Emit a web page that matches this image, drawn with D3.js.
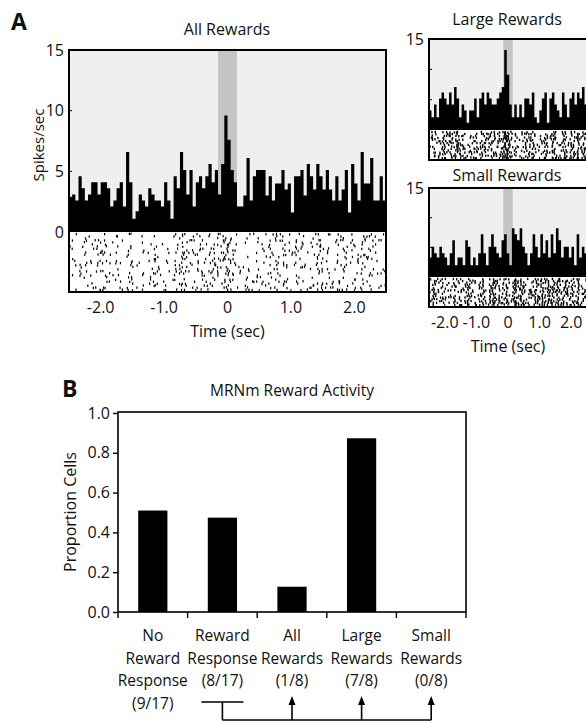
<!DOCTYPE html>
<html><head><meta charset="utf-8">
<script src="https://cdn.jsdelivr.net/npm/d3@7"></script>
<style>
body{margin:0;background:#fff}
svg{display:block}
text{font-family:"Open Sans",sans-serif;fill:#111}
</style>
</head><body>
<svg id="chart" width="586" height="721"></svg>
<script>
// ---------------- DATA ----------------
// Peri-event histograms (spikes/sec per bin, -2.5 s .. +2.5 s)
const allRewards = [2.9,3.1,2.6,4.6,3.6,2.6,3.1,4.1,4.1,3.1,4.1,4.1,3.6,2.1,2.6,3.6,4.1,2.1,6.6,4.1,
  1.1,1.7,3.1,2.6,2.1,3.6,3.1,2.6,2.6,2.1,4.1,2.6,1.1,4.6,3.6,6.6,5.1,3.1,5.1,2.1,
  4.1,4.6,3.6,4.6,5.6,4.1,5.1,3.1,5.6,9.6,7.6,5.1,4.1,2.1,2.1,
  3.0,6.1,2.6,4.6,5.1,5.1,5.1,3.0,4.6,2.6,4.0,4.0,5.1,3.5,4.0,1.6,4.6,4.6,5.1,3.0,
  5.6,4.6,3.5,5.6,4.6,3.5,5.1,3.5,2.6,4.6,2.6,3.5,5.1,1.6,5.6,4.0,2.6,6.6,4.0,4.0,
  6.1,2.6,2.6,4.6,2.6];
const largeRewards = [3.2,2.1,4.2,2.1,5.2,6.2,5.2,4.2,6.2,4.2,7.1,5.2,2.1,4.2,3.2,1.2,3.2,3.2,5.2,2.1,
  5.2,6.2,4.2,6.2,5.2,4.2,4.2,5.2,6.2,7.1,13.2,9.1,4.2,2.1,4.2,2.1,4.2,2.1,5.2,5.2,
  4.2,6.2,2.1,1.2,3.2,5.2,6.2,1.2,5.2,6.2,4.2,3.2,2.1,6.2,4.2,2.1,5.2,6.2,4.2,6.2,
  5.2,7.1,4.2];
const smallRewards = [3.3,5.1,4.0,3.3,5.1,4.0,3.3,2.0,4.0,6.2,2.0,3.3,3.3,2.0,6.2,5.1,2.0,3.3,2.0,4.0,
  7.2,4.0,2.0,5.1,7.2,5.1,4.0,3.3,6.2,7.2,4.0,2.0,8.2,7.2,6.2,8.2,5.1,4.0,2.0,4.0,
  7.2,5.1,3.3,7.2,4.0,6.2,3.3,7.2,4.0,8.2,6.2,3.3,5.1,5.1,3.3,5.1,2.0,7.2,3.3,5.1,
  4.0];
const timeDomain = [-2.5, 2.5];
const rewardWindow = [-0.15, 0.15];
const timeTicks = [-2, -1, 0, 1, 2];
const timeTickLabels = ["-2.0", "-1.0", "0", "1.0", "2.0"];
const rateTicksMain = [0, 5, 10, 15];
const rateTicksSmall = [15];

// Panel B
const categories = ["No Reward Response", "Reward Response", "All Rewards", "Large Rewards", "Small Rewards"];
const categoryLines = [["No","Reward","Response","(9/17)"],["Reward","Response","(8/17)"],
  ["All","Rewards","(1/8)"],["Large","Rewards","(7/8)"],["Small","Rewards","(0/8)"]];
const proportions = [0.51, 0.474, 0.127, 0.873, 0.0];
const propTicks = [0, 0.2, 0.4, 0.6, 0.8, 1.0];

// ---------------- DRAW ----------------
const svg = d3.select("#chart");

// deterministic integer hash used to scatter raster ticks (texture derived from the PSTH values)
function h(a, b, c) {
  let x = Math.imul(a, 0x9E3779B1) ^ Math.imul(b + 977, 0x85EBCA77) ^ Math.imul(c + 31, 0xC2B2AE3D);
  x ^= x >>> 16; x = Math.imul(x, 0x7feb352d);
  x ^= x >>> 15; x = Math.imul(x, 0x846ca68b);
  x ^= x >>> 16;
  return (x >>> 0) / 4294967296;
}

function psth(cfg) {
  const g = svg.append("g");
  const x = d3.scaleLinear().domain(timeDomain).range([cfg.x0, cfg.x1]);
  const y = d3.scaleLinear().domain([0, 15]).range([cfg.yBase, cfg.yTop]);
  const n = cfg.data.length;
  const bw = (timeDomain[1] - timeDomain[0]) / n;
  const pts = cfg.data.map((v, i) => [timeDomain[0] + i * bw, v]);
  pts.push([timeDomain[1], cfg.data[n - 1]]);

  g.append("rect").attr("x", cfg.x0).attr("y", cfg.yTop)
    .attr("width", cfg.x1 - cfg.x0).attr("height", cfg.yBase - cfg.yTop).attr("fill", "#efefef");
  g.append("rect").attr("x", x(rewardWindow[0])).attr("y", cfg.yTop)
    .attr("width", x(rewardWindow[1]) - x(rewardWindow[0])).attr("height", cfg.yBase - cfg.yTop)
    .attr("fill", "#c4c4c4");
  const area = d3.area().curve(d3.curveStepAfter)
    .x(d => x(d[0])).y0(y(0)).y1(d => y(d[1]));
  g.append("path").datum(pts).attr("d", area).attr("fill", "#000");

  // raster
  g.append("rect").attr("x", cfg.x0).attr("y", cfg.yBase)
    .attr("width", cfg.x1 - cfg.x0).attr("height", cfg.yBottom - cfg.yBase).attr("fill", "#fff");
  const rowH = (cfg.yBottom - cfg.yBase - cfg.tickH - 2) / (cfg.rows - 1);
  const spikes = [];
  for (let r = 0; r < cfg.rows; r++) {
    cfg.data.forEach((v, i) => {
      let p = v * cfg.gain;
      let k = 0;
      while (p > 0) {
        if (h(r + 1, i + 1, k + cfg.seed * 101) < p) {
          spikes.push({ t: timeDomain[0] + (i + h(i + 7, r + 3, k + 11 + cfg.seed * 53)) * bw,
                        r: r, j: h(r + 5, i + 9, k + 70 + cfg.seed) });
        }
        p -= 1; k++;
      }
    });
  }
  g.append("g").selectAll("rect").data(spikes).join("rect")
    .attr("x", d => x(d.t)).attr("y", d => cfg.yBase + 1 + d.r * rowH + (d.j - 0.5) * 0.8)
    .attr("width", cfg.tickW).attr("height", cfg.tickH).attr("fill", "#000");

  // frame
  g.append("rect").attr("x", cfg.x0).attr("y", cfg.yTop)
    .attr("width", cfg.x1 - cfg.x0).attr("height", cfg.yBottom - cfg.yTop)
    .attr("fill", "none").attr("stroke", "#000").attr("stroke-width", 2);

  // y ticks (inward)
  g.append("g").selectAll("line").data([5, 10]).join("line")
    .attr("x1", cfg.x0).attr("x2", cfg.x0 + 3).attr("y1", d => y(d)).attr("y2", d => y(d))
    .attr("stroke", "#000").attr("stroke-width", 1);
  g.append("g").selectAll("text").data(cfg.yLabels).join("text")
    .attr("x", cfg.x0 - 5).attr("y", d => y(d)).attr("dy", "0.36em")
    .attr("text-anchor", "end").attr("font-size", 16).text(d => d);

  // x ticks
  g.append("g").selectAll("line").data(d3.range(-2, 2.01, 0.5)).join("line")
    .attr("x1", d => x(d)).attr("x2", d => x(d)).attr("y1", cfg.yBottom).attr("y2", cfg.yBottom - 3)
    .attr("stroke", "#000").attr("stroke-width", 1);
  if (cfg.xAxis) {
    g.append("g").selectAll("text").data(timeTicks).join("text")
      .attr("x", d => x(d)).attr("y", cfg.yBottom + 21)
      .attr("text-anchor", "middle").attr("font-size", 16).text((d, i) => timeTickLabels[i]);
    g.append("text").attr("x", x(0)).attr("y", cfg.yBottom + 45)
      .attr("text-anchor", "middle").attr("font-size", 16).text("Time (sec)");
  }
  g.append("text").attr("x", cfg.titleX).attr("y", cfg.titleY)
    .attr("text-anchor", "middle").attr("font-size", 16).text(cfg.title);
  return { x, y };
}

psth({ data: allRewards, x0: 69, x1: 386, yTop: 50, yBase: 232, yBottom: 292,
  rows: 28, gain: 0.055, tickW: 1.2, tickH: 2.4, seed: 1,
  yLabels: rateTicksMain, xAxis: true, title: "All Rewards", titleX: 227, titleY: 35 });
psth({ data: largeRewards, x0: 429, x1: 587, yTop: 39, yBase: 130, yBottom: 160,
  rows: 15, gain: 0.115, tickW: 1.4, tickH: 2.3, seed: 2,
  yLabels: rateTicksSmall, xAxis: false, title: "Large Rewards", titleX: 507, titleY: 25 });
psth({ data: smallRewards, x0: 429, x1: 587, yTop: 188, yBase: 277, yBottom: 307,
  rows: 15, gain: 0.115, tickW: 1.4, tickH: 2.3, seed: 3,
  yLabels: rateTicksSmall, xAxis: true, title: "Small Rewards", titleX: 507, titleY: 181 });

svg.append("text").attr("x", 44).attr("y", 145).attr("transform", "rotate(-90,44,145)")
  .attr("text-anchor", "middle").attr("font-size", 15).text("Spikes/sec");
svg.append("text").attr("x", 11).attr("y", 30).attr("font-size", 23).attr("font-weight", "bold")
  .attr("font-family", "Liberation Sans, Arial, sans-serif").text("A");

// ---------------- PANEL B ----------------
const bx = d3.scaleBand().domain(d3.range(categories.length)).range([118, 466])
  .paddingInner(0.58).paddingOuter(0.29);
const step = (466 - 118) / categories.length;
const by = d3.scaleLinear().domain([0, 1]).range([612, 413]);
const gb = svg.append("g");

gb.selectAll("rect.bar").data(proportions).join("rect").attr("class", "bar")
  .attr("x", (d, i) => bx(i)).attr("width", bx.bandwidth())
  .attr("y", d => by(d)).attr("height", d => by(0) - by(d)).attr("fill", "#000");

gb.append("rect").attr("x", 118).attr("y", 412).attr("width", 348).attr("height", 200)
  .attr("fill", "none").attr("stroke", "#000").attr("stroke-width", 1.6);

const yAxis = d3.axisLeft(by).tickValues(propTicks).tickFormat(d3.format(".1f")).tickSize(5).tickPadding(3);
const ya = gb.append("g").attr("transform", "translate(118,0)").call(yAxis);
ya.select(".domain").remove();
ya.selectAll("line").attr("stroke-width", 1.4);
ya.selectAll("text").attr("font-size", 16).attr("font-family", '"Open Sans",sans-serif').attr("fill", "#111");

gb.selectAll("line.ct").data(d3.range(categories.length + 1)).join("line").attr("class", "ct")
  .attr("x1", i => 118 + i * step).attr("x2", i => 118 + i * step)
  .attr("y1", 612).attr("y2", 618).attr("stroke", "#000").attr("stroke-width", 1.4);

const lbl = gb.selectAll("text.cat").data(categoryLines).join("text").attr("class", "cat")
  .attr("text-anchor", "middle").attr("font-size", 15.5)
  .attr("x", (d, i) => bx(i) + bx.bandwidth() / 2).attr("y", 641);
lbl.selectAll("tspan").data((d, i) => d.map(s => ({ s, cx: bx(i) + bx.bandwidth() / 2 }))).join("tspan")
  .attr("x", d => d.cx).attr("dy", (d, j) => j === 0 ? 0 : 22.7).text(d => d.s);

gb.append("text").attr("x", 292).attr("y", 396).attr("text-anchor", "middle")
  .attr("font-size", 15.5).text("MRNm Reward Activity");
gb.append("text").attr("x", 76).attr("y", 512).attr("transform", "rotate(-90,76,512)")
  .attr("text-anchor", "middle").attr("font-size", 16).text("Proportion Cells");
svg.append("text").attr("x", 62).attr("y", 397).attr("font-size", 23).attr("font-weight", "bold")
  .attr("font-family", "Liberation Sans, Arial, sans-serif").text("B");

// connectors
const cx = i => bx(i) + bx.bandwidth() / 2;
const conn = svg.append("g").attr("stroke", "#000").attr("stroke-width", 1.6).attr("fill", "none");
conn.append("line").attr("x1", cx(1) - 21).attr("x2", cx(1) + 21).attr("y1", 702).attr("y2", 702);
conn.append("line").attr("x1", cx(1)).attr("x2", cx(1)).attr("y1", 702).attr("y2", 720);
conn.append("line").attr("x1", cx(1)).attr("x2", cx(4)).attr("y1", 720).attr("y2", 720);
[2, 3, 4].forEach(i => {
  conn.append("line").attr("x1", cx(i)).attr("x2", cx(i)).attr("y1", 720).attr("y2", 703);
  svg.append("path")
    .attr("d", `M${cx(i)},696 L${cx(i) - 3.5},705 L${cx(i) + 3.5},705 Z`).attr("fill", "#000");
});
</script>
</body></html>
